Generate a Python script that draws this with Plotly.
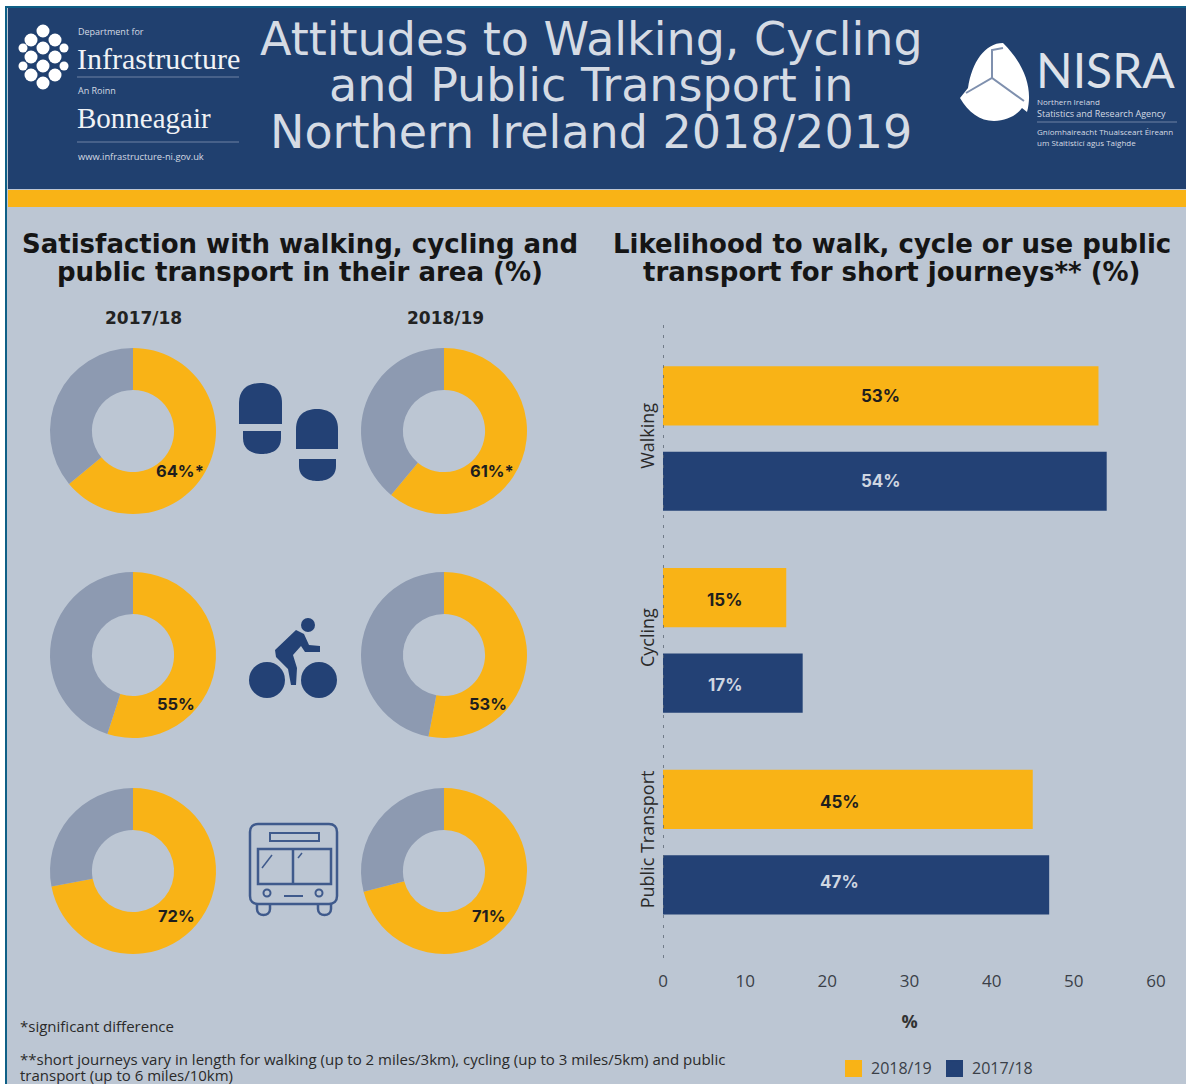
import plotly.graph_objects as go

W, H = 1186, 1084

# ---- data ----
donut_years = ["2017/18", "2018/19"]
donut_walking = [64, 61]
donut_cycling = [55, 53]
donut_transport = [72, 71]
donut_labels = [["64%*", "61%*"], ["55%", "53%"], ["72%", "71%"]]

bar_categories = ["Walking", "Cycling", "Public Transport"]
bar_2018_19 = [53, 15, 45]
bar_2017_18 = [54, 17, 47]
x_ticks = [0, 10, 20, 30, 40, 50, 60]

title_lines = ["Attitudes to Walking, Cycling", "and Public Transport in", "Northern Ireland 2018/2019"]
left_heading = ["Satisfaction with walking, cycling and", "public transport in their area (%)"]
right_heading = ["Likelihood to walk, cycle or use public", "transport for short journeys** (%)"]
note_1 = "*significant difference"
note_2 = ["**short journeys vary in length for walking (up to 2 miles/3km), cycling (up to 3 miles/5km) and public",
          "transport (up to 6 miles/10km)"]

# ---- styles ----
GOLD = "#F9B316"
NAVY = "#234175"
HEADER = "#20406F"
BG = "#BCC6D3"
GREY = "#8D9AB1"
TEAL = "#0E5F86"
HEAD_TXT = "#D5DBE4"
DARK = "#1C1C1C"
TITLE_FONT = "DejaVu Sans"
LABEL_FONT = "Inter"
BODY_FONT = "Open Sans"

shapes, annots = [], []


def panel(x0, y0, x1, y1, fill, line=None, lw=0):
    shapes.append(dict(type="rect", xref="paper", yref="paper", x0=x0 / W, x1=x1 / W,
                       y0=1 - y1 / H, y1=1 - y0 / H, fillcolor=fill,
                       line=dict(width=lw, color=line or fill), layer="below"))


def rect(x0, y0, x1, y1, fill, line=None, lw=0):
    shapes.append(dict(type="rect", xref="x2", yref="y2", x0=x0, y0=y0, x1=x1, y1=y1,
                       fillcolor=fill, line=dict(width=lw, color=line or fill), layer="above"))


def circ(cx, cy, r, fill, line=None, lw=0):
    shapes.append(dict(type="circle", xref="x2", yref="y2", x0=cx - r, y0=cy - r, x1=cx + r, y1=cy + r,
                       fillcolor=fill, line=dict(width=lw, color=line or fill), layer="above"))


def path(d, fill=None, line=None, lw=0):
    shapes.append(dict(type="path", xref="x2", yref="y2", path=d, fillcolor=fill or "rgba(0,0,0,0)",
                       line=dict(width=lw, color=line or "rgba(0,0,0,0)"), layer="above"))


def seg(x0, y0, x1, y1, color, lw=1):
    shapes.append(dict(type="line", xref="x2", yref="y2", x0=x0, y0=y0, x1=x1, y1=y1,
                       line=dict(width=lw, color=color), layer="above"))


def text(x, y, s, size, color=DARK, font=BODY_FONT, anchor="center", bold=False):
    annots.append(dict(xref="x2", yref="y2", x=x, y=y, text=f"<b>{s}</b>" if bold else s, showarrow=False,
                       xanchor=anchor, yanchor="middle", borderpad=0, borderwidth=0,
                       font=dict(size=size, color=color, family=font)))


# page panels
panel(6, 7, W + 2, H + 2, BG, line=TEAL, lw=2)
panel(8, 8, W + 2, 189, HEADER)
panel(8, 190, W + 2, 207, GOLD)

# header titles
for line_text, yy in zip(title_lines, [39, 85, 132]):
    text(591, yy, line_text, 46, HEAD_TXT, TITLE_FONT)

# department logo
for cx, cy, r in [(43, 31, 6.5), (43, 48, 6.5), (43, 66, 6.5), (43, 83, 6.5),
                  (31, 40, 6.5), (31, 57, 6.5), (31, 75, 6.5), (55, 40, 6.5), (55, 57, 6.5), (55, 75, 6.5),
                  (23, 48, 4.5), (23, 66, 4.5), (64, 48, 4.5), (64, 66, 4.5)]:
    circ(cx, cy, r, "#FFFFFF")
text(78, 31, "Department for", 9, HEAD_TXT, anchor="left")
text(77, 58, "Infrastructure", 30, "#F0F2F5", "Liberation Serif", "left")
seg(77, 77, 239, 77, "#6F82A5", 1)
text(78, 90, "An Roinn", 9, HEAD_TXT, anchor="left")
text(77, 118, "Bonneagair", 29, "#F0F2F5", "Liberation Serif", "left")
seg(77, 142, 239, 142, "#6F82A5", 1)
text(78, 156, "www.infrastructure-ni.gov.uk", 9.3, HEAD_TXT, anchor="left")

# NISRA logo
path("M1003,43 C985,43 972,62 968,88 L960,98 C968,112 980,121 994,121 C1006,121 1016,116 1022,108 "
     "L1027,112 C1033,90 1026,66 1003,43 Z", fill="#FFFFFF")
path("M1003,48 L992,50 L992,78 M966,93 L992,78 L1024,101", line="#7F90AE", lw=2)
text(1036, 69, "NISRA", 48, "#DDE2EA", "Lato", "left")
text(1037, 101, "Northern Ireland", 8, HEAD_TXT, anchor="left")
text(1037, 113, "Statistics and Research Agency", 9, HEAD_TXT, anchor="left")
seg(1037, 122, 1177, 122, "#6F82A5", 1)
text(1037, 131, "Gníomhaireacht Thuaisceart Éireann", 8, HEAD_TXT, anchor="left")
text(1037, 142, "um Staitisticí agus Taighde", 8, HEAD_TXT, anchor="left")

# headings
for line_text, yy in zip(left_heading, [244, 272]):
    text(300, yy, line_text, 26, "#151515", TITLE_FONT, bold=True)
for line_text, yy in zip(right_heading, [244, 272]):
    text(892, yy, line_text, 26, "#151515", TITLE_FONT, bold=True)
text(143, 318, donut_years[0], 17, "#222222", TITLE_FONT, bold=True)
text(445, 318, donut_years[1], 17, "#222222", TITLE_FONT, bold=True)


# footprints
def sole(x0, x1, y0, y1):
    m = (x0 + x1) / 2
    return (f"M{x0},{y1} L{x0},{y0 + 20} C{x0},{y0 + 6} {m - 12},{y0} {m},{y0} "
            f"C{m + 12},{y0} {x1},{y0 + 6} {x1},{y0 + 20} L{x1},{y1} Z")


def heel(x0, x1, y0, y1):
    m = (x0 + x1) / 2
    return f"M{x0},{y0} L{x1},{y0} L{x1},{y0 + 7} C{x1},{y1 - 3} {m + 8},{y1} {m},{y1} C{m - 8},{y1} {x0},{y1 - 3} {x0},{y0 + 7} Z"


path(sole(239, 282, 383, 424), fill=NAVY)
path(heel(243, 281, 431, 454), fill=NAVY)
path(sole(296, 338, 409, 449), fill=NAVY)
path(heel(299, 336, 459, 481), fill=NAVY)

# cyclist
circ(267, 680, 18, NAVY)
circ(319, 680, 18, NAVY)
circ(308, 625, 7, NAVY)
path("M296,630 L304,634 L309,645 L320,646 L320,652 L305,652 L301,646 L293,655 L297,668 L296,685 L291,685 "
     "L288,669 L276,657 L275,650 Z", fill=NAVY)

# bus
BUS = "#3F5A8C"
path("M258,824 L329,824 C334,824 337,827 337,832 L337,896 C337,901 334,904 329,904 L258,904 "
     "C253,904 250,901 250,896 L250,832 C250,827 253,824 258,824 Z", line=BUS, lw=2.5)
rect(270, 833, 319, 841, "rgba(0,0,0,0)", line=BUS, lw=2)
rect(258, 849, 331, 884, "rgba(0,0,0,0)", line=BUS, lw=2.5)
seg(293, 849, 293, 884, BUS, 2.5)
seg(262, 868, 272, 855, BUS, 1.5)
seg(298, 858, 302, 853, BUS, 1.5)
circ(267, 893, 3.5, "rgba(0,0,0,0)", BUS, 2)
circ(319, 893, 3.5, "rgba(0,0,0,0)", BUS, 2)
seg(284, 896, 303, 896, BUS, 2)
path("M257,904 L257,909 C257,917 270,917 270,909 L270,904", line=BUS, lw=2.5)
path("M318,904 L318,909 C318,917 331,917 331,909 L331,904", line=BUS, lw=2.5)

# footnotes
text(20, 1026, note_1, 15, "#2A2A2A", anchor="left")
text(20, 1059, note_2[0], 15, "#2A2A2A", anchor="left")
text(20, 1075, note_2[1], 15, "#2A2A2A", anchor="left")

fig = go.Figure()

# donuts
R = 83
centres_x = [133, 444]
rows = [(donut_walking, 431), (donut_cycling, 655), (donut_transport, 871)]
for r_i, (vals, cy) in enumerate(rows):
    for c_i, cx in enumerate(centres_x):
        fig.add_trace(go.Pie(values=[vals[c_i], 100 - vals[c_i]], sort=False, direction="clockwise", rotation=0,
                             hole=0.495, textinfo="none", hoverinfo="skip", showlegend=False,
                             marker=dict(colors=[GOLD, GREY], line=dict(width=0)),
                             domain=dict(x=[(cx - R) / W, (cx + R) / W],
                                         y=[1 - (cy + R) / H, 1 - (cy - R) / H])))
label_pos = {0: 471, 1: 704, 2: 916}
for r_i, row in enumerate(donut_labels):
    for c_i, lab in enumerate(row):
        x_lab = [176, 488][c_i] + (4 if "*" in lab else 0)
        text(x_lab, label_pos[r_i], lab, 16.5, "#1E1E1E", LABEL_FONT, bold=True)

# bars
fig.add_trace(go.Bar(name="2018/19", y=bar_categories, x=bar_2018_19, orientation="h", marker_color=GOLD,
                     marker_line_width=0, xaxis="x", yaxis="y", hoverinfo="skip"))
fig.add_trace(go.Bar(name="2017/18", y=bar_categories, x=bar_2017_18, orientation="h", marker_color=NAVY,
                     marker_line_width=0, xaxis="x", yaxis="y", hoverinfo="skip"))

# the value labels sit on a shared column per category, near the middle of the 2018/19 bar
label_xshift = [0, 0, -8]
label_yshift_top = [43, 40, 40]
label_yshift_bottom = [-42, -45, -40]
for i, (cat, v_new, v_old) in enumerate(zip(bar_categories, bar_2018_19, bar_2017_18)):
    annots.append(dict(xref="x", yref="y", x=v_new / 2, y=cat, xshift=label_xshift[i], yshift=label_yshift_top[i],
                       text=f"<b>{v_new}%</b>", showarrow=False,
                       font=dict(size=17, color="#1E1E1E", family=LABEL_FONT)))
    annots.append(dict(xref="x", yref="y", x=v_new / 2, y=cat, xshift=label_xshift[i], yshift=label_yshift_bottom[i],
                       text=f"<b>{v_old}%</b>", showarrow=False,
                       font=dict(size=17, color="#CFD6E1", family=LABEL_FONT)))

# dotted category axis line
shapes.append(dict(type="line", xref="x", yref="y2", x0=0, x1=0, y0=325, y1=965,
                   line=dict(color="#5A6472", width=1.5, dash="3px,7px"), layer="above"))

# larger legend keys, as in the reference
rect(845, 1060, 862, 1077, GOLD)
rect(946, 1060, 963, 1077, NAVY)

fig.update_layout(
    width=W, height=H, autosize=False,
    margin=dict(l=0, r=0, t=0, b=0, pad=0, autoexpand=False),
    paper_bgcolor="#FFFFFF", plot_bgcolor="rgba(0,0,0,0)",
    barmode="group", bargap=0.154, bargroupgap=0.306,
    showlegend=True,
    legend=dict(orientation="h", x=831 / W, y=1 - 1051 / H, xanchor="left", yanchor="top",
                bgcolor="rgba(0,0,0,0)", font=dict(size=16, color="#3A3F48", family=BODY_FONT),
                traceorder="normal", itemwidth=30, entrywidth=56, entrywidthmode="pixels"),
    xaxis=dict(domain=[663 / W, 1156 / W], range=[0, 60], tickvals=x_ticks, anchor="y", automargin=False,
               showgrid=False, zeroline=False, showline=False, ticks="", ticklabelstandoff=26,
               tickfont=dict(size=17, color="#3A3F48", family=BODY_FONT),
               title=dict(text="<b>%</b>", standoff=24, font=dict(size=18, color="#333333", family=BODY_FONT))),
    yaxis=dict(domain=[1 - 943 / H, 1 - 337.7 / H], anchor="x", autorange="reversed", type="category",
               categoryorder="array", categoryarray=bar_categories, automargin=False,
               showgrid=False, zeroline=False, showline=False, ticks="", tickangle=-90, ticklabelstandoff=4,
               tickfont=dict(size=18, color="#2A2A2A", family=BODY_FONT)),
    xaxis2=dict(domain=[0, 1], range=[0, W], visible=False, anchor="y2", fixedrange=True, automargin=False),
    yaxis2=dict(domain=[0, 1], range=[H, 0], visible=False, anchor="x2", fixedrange=True, automargin=False),
    shapes=shapes, annotations=annots,
)

fig.write_html("out.html", config={"displayModeBar": False},
               post_script="document.body.style.margin='0';document.body.style.overflow='hidden';")
